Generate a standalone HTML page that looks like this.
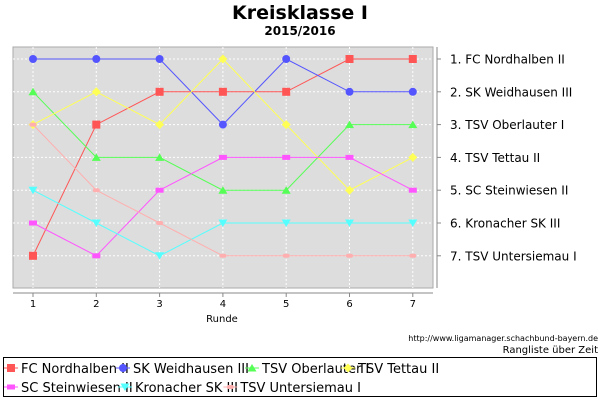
<!DOCTYPE html>
<html><head><meta charset="utf-8"><style>
body{margin:0;background:#fff;}
svg text{font-family:"DejaVu Sans","Liberation Sans",sans-serif;}
</style></head><body>
<svg id="c" width="600" height="400" xmlns="http://www.w3.org/2000/svg">
<text x="300" y="19" text-anchor="middle" font-size="19" font-weight="bold">Kreisklasse I</text>
<text x="300" y="35" text-anchor="middle" font-size="12" font-weight="bold">2015/2016</text>
<rect x="13" y="47" width="420" height="241" fill="#dddddd" stroke="#aaaaaa"/>
<line x1="13" y1="293" x2="433" y2="293" stroke="#888"/>
<line x1="437" y1="47" x2="437" y2="288" stroke="#888"/>
<g id="grid"></g><g id="series"></g><g id="axes"></g>
<text x="222" y="322" text-anchor="middle" font-size="10">Runde</text>
<text x="598" y="341" text-anchor="end" font-size="8">http://www.ligamanager.schachbund-bayern.de</text>
<text x="598" y="353" text-anchor="end" font-size="10" font-family="Liberation Mono,monospace">Rangliste über Zeit</text>
<rect x="3.5" y="357.5" width="593" height="39" fill="none" stroke="#000"/>
<g id="legend"></g>
</svg>
<script>
const rounds=[1,2,3,4,5,6,7];
const teams=["FC Nordhalben II","SK Weidhausen III","TSV Oberlauter I","TSV Tettau II","SC Steinwiesen II","Kronacher SK III","TSV Untersiemau I"];
const rankNordhalben=[7,3,2,2,2,1,1];
const rankWeidhausen=[1,1,1,3,1,2,2];
const rankOberlauter=[2,4,4,5,5,3,3];
const rankTettau=[3,2,3,1,3,5,4];
const rankSteinwiesen=[6,7,5,4,4,4,5];
const rankKronacher=[5,6,7,6,6,6,6];
const rankUntersiemau=[3,5,6,7,7,7,7];
const endLabels=["1. FC Nordhalben II","2. SK Weidhausen III","3. TSV Oberlauter I","4. TSV Tettau II","5. SC Steinwiesen II","6. Kronacher SK III","7. TSV Untersiemau I"];
const allRanks=[rankNordhalben,rankWeidhausen,rankOberlauter,rankTettau,rankSteinwiesen,rankKronacher,rankUntersiemau];
const colors=["#ff5555","#5555ff","#55ff55","#ffff55","#ff55ff","#55ffff","#ffafaf"];
const shapes=["sq","ci","tu","di","re","td","sm"];
const NS="http://www.w3.org/2000/svg";
const X=r=>33+(r-1)*63.3;
const Y=k=>59+(k-1)*32.8;
function mk(t,a,p){const e=document.createElementNS(NS,t);for(const k in a)e.setAttribute(k,a[k]);p.appendChild(e);return e;}
const grid=document.getElementById('grid'),ser=document.getElementById('series'),ax=document.getElementById('axes'),leg=document.getElementById('legend');
rounds.forEach(r=>{const l=mk('line',{x1:X(r),x2:X(r),y1:47,y2:288,stroke:'#fff','stroke-dasharray':'2,2'},grid);

const t=mk('line',{x1:X(r),x2:X(r),y1:293,y2:297,stroke:'#888'},ax);

const tx=mk('text',{x:X(r),y:307,'text-anchor':'middle','font-size':'10'},ax);tx.textContent=r;
});
endLabels.forEach((s,i)=>{const k=i+1;const l=mk('line',{x1:13,x2:433,y1:Y(k),y2:Y(k),stroke:'#fff','stroke-dasharray':'2,2'},grid);

const t=mk('line',{x1:437,x2:441,y1:Y(k),y2:Y(k),stroke:'#888'},ax);

const tx=mk('text',{x:450,y:Y(k)+4.5,'font-size':'12','font-family':'Liberation Mono,DejaVu Sans Mono,monospace'},ax);tx.textContent=s;
});
function marker(s,x,y,c,p){let e;
if(s=='sq')e=mk('rect',{x:x-4,y:y-4,width:8,height:8,fill:c},p);
else if(s=='ci')e=mk('circle',{cx:x,cy:y,r:4,fill:c},p);
else if(s=='tu')e=mk('polygon',{points:`${x},${y-4} ${x+4.5},${y+3.5} ${x-4.5},${y+3.5}`,fill:c},p);
else if(s=='td')e=mk('polygon',{points:`${x},${y+4} ${x+4.5},${y-3.5} ${x-4.5},${y-3.5}`,fill:c},p);
else if(s=='di')e=mk('polygon',{points:`${x},${y-4.5} ${x+4.5},${y} ${x},${y+4.5} ${x-4.5},${y}`,fill:c},p);
else if(s=='re')e=mk('rect',{x:x-4,y:y-2.5,width:8,height:5,fill:c},p);
else e=mk('rect',{x:x-3.5,y:y-2,width:7,height:4,rx:2,fill:c},p);
return e;}
allRanks.forEach((arr,i)=>{const g=mk('g',{},ser);
const pl=mk('polyline',{points:arr.map((v,j)=>X(rounds[j])+','+Y(v)).join(' '),fill:'none',stroke:colors[i],'stroke-width':1},g);

arr.forEach((v,j)=>{const m=marker(shapes[i],X(rounds[j]),Y(v),colors[i],g);
});});
const lx=[6,342,729,1017,6,348,664].map(v=>v/3+2),ly=[368,368,368,368,387,387,387];
teams.forEach((n,i)=>{const g=mk('g',{},leg);
const x=lx[i],y=ly[i];mk('line',{x1:x,x2:x+14,y1:y,y2:y,stroke:colors[i]},g);marker(shapes[i],x+7,y,colors[i],g);
const t=mk('text',{x:x+17,y:y+5,'font-size':'13'},g);t.textContent=n;});
</script>
</body></html>
